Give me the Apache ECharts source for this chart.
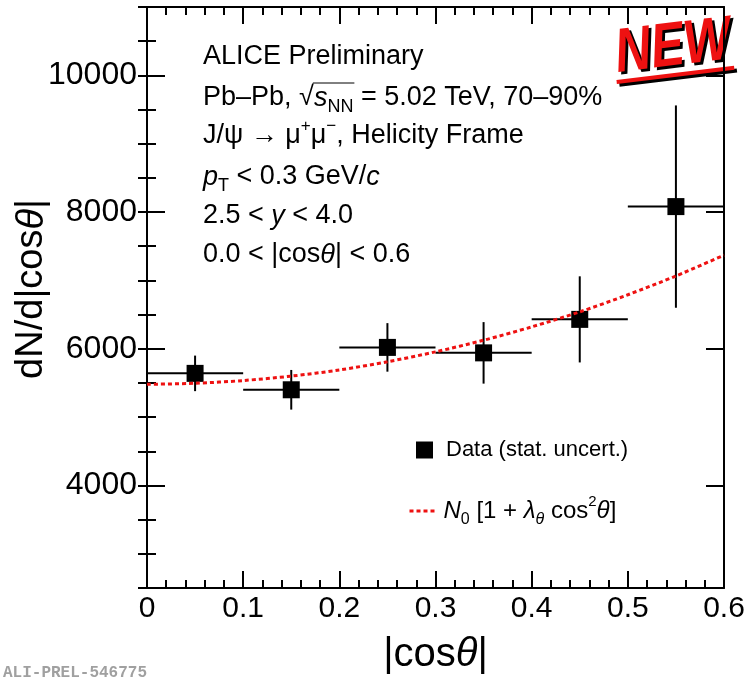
<!DOCTYPE html>
<html><head><meta charset="utf-8">
<script src="https://cdn.jsdelivr.net/npm/echarts@6/dist/echarts.min.js"></script>
<style>html,body{margin:0;padding:0;background:#fff}#c{width:751px;height:680px}</style>
</head><body><div id="c"></div>
<script>
// ---- data ----
const binLow = [0.0, 0.1, 0.2, 0.3, 0.4, 0.5];
const binHigh = [0.1, 0.2, 0.3, 0.4, 0.5, 0.6];
const binCenter = [0.05, 0.15, 0.25, 0.35, 0.45, 0.55];
const dataY = [5640, 5400, 6020, 5940, 6430, 8080];
const statErr = [260, 290, 355, 450, 630, 1480];
const fitX = [0, 0.05, 0.1, 0.15, 0.2, 0.25, 0.3, 0.35, 0.4, 0.45, 0.5, 0.55, 0.6];
const fitY = [5480, 5495, 5535, 5600, 5690, 5810, 5955, 6125, 6320, 6540, 6790, 7065, 7370];
const yTicks = [4000, 6000, 8000, 10000];
const dataName = 'Data (stat. uncert.)';
const fitName = 'N0 [1 + λθ cos2θ]';

const FONT = '"Liberation Sans", Arial, Helvetica, sans-serif';
function richSet(fs) {
  const base = {fontSize: fs, fontFamily: FONT, color: '#000', lineHeight: fs + 10};
  return {
    n: Object.assign({}, base),
    i: Object.assign({}, base, {fontStyle: 'italic'}),
    sub: {fontSize: Math.round(fs * 0.68), fontFamily: FONT, color: '#000', lineHeight: 10, verticalAlign: 'bottom'},
    subi: {fontSize: Math.round(fs * 0.68), fontFamily: FONT, color: '#000', fontStyle: 'italic', lineHeight: 6, verticalAlign: 'bottom'},
    sup: {fontSize: Math.round(fs * 0.62), fontFamily: FONT, color: '#000', lineHeight: 14, verticalAlign: 'top'}
  };
}
const INFO_FS = 27;
const richInfo = richSet(INFO_FS);
const richLeg = richSet(24);

// decoration: overline of the square root, measured from the text itself
const mctx = document.createElement('canvas').getContext('2d');
function tw(font, s) { mctx.font = font; return mctx.measureText(s).width; }
const infoX = 203, pbY = 98;
const olStart = infoX + tw(INFO_FS + 'px ' + FONT, 'Pb–Pb, √') - 1;
const olEnd = olStart + 1 + tw('italic ' + INFO_FS + 'px ' + FONT, 's') + tw(Math.round(INFO_FS * 0.68) + 'px ' + FONT, 'NN') + 1;

const errRows = binCenter.map((x, k) => [x, dataY[k], binLow[k], binHigh[k], dataY[k] - statErr[k], dataY[k] + statErr[k]]);
const dataPts = binCenter.map((x, k) => [x, dataY[k]]);
const fitPts = fitX.map((x, k) => [x, fitY[k]]);

const axisLineStyle = {color: '#000', width: 2};
const tickLineStyle = {color: '#000', width: 2};
const fitLineStyle = {color: '#ee1111', width: 3, type: [4, 3]};

function xAx(pos, labels) {
  return {
    type: 'value', min: 0, max: 0.6, interval: 0.1, position: pos,
    axisLine: {show: true, onZero: false, lineStyle: axisLineStyle},
    axisTick: {show: true, inside: true, length: 17, lineStyle: tickLineStyle},
    minorTick: {show: true, splitNumber: 5, length: 8, lineStyle: tickLineStyle},
    axisLabel: {show: labels, fontSize: 30, fontFamily: FONT, color: '#000', margin: 6,
      formatter: v => (Math.abs(v) < 1e-9 ? '0' : v.toFixed(1))},
    splitLine: {show: false},
    name: labels ? '{n||cos}{i|θ}{n||}' : '',
    nameLocation: 'middle', nameGap: 47,
    nameTextStyle: {rich: {n: {fontSize: 40, fontFamily: FONT, color: '#000'}, i: {fontSize: 40, fontFamily: FONT, color: '#000', fontStyle: 'italic'}}}
  };
}
function yMajor(pos, labels) {
  return {
    type: 'value', min: 2500, max: 11000, position: pos,
    axisLine: {show: true, onZero: false, lineStyle: axisLineStyle},
    axisTick: {show: true, inside: true, length: 18, customValues: yTicks, lineStyle: tickLineStyle},
    axisLabel: {show: labels, customValues: yTicks, fontSize: 32, fontFamily: FONT, color: '#000', margin: 10,
      formatter: v => String(Math.round(v))},
    splitLine: {show: false}
  };
}
function yMinor(pos) {
  return {
    type: 'value', min: 2500, max: 11000, interval: 500, position: pos,
    axisLine: {show: false},
    axisTick: {show: true, inside: true, length: 9, lineStyle: tickLineStyle},
    axisLabel: {show: false},
    splitLine: {show: false}
  };
}

function info(y, text) {
  return {type: 'text', x: infoX, y: y, style: {text: text, rich: richInfo, verticalAlign: 'middle'}};
}

const chart = echarts.init(document.getElementById('c'), null, {renderer: 'canvas'});
chart.setOption({
  animation: false,
  backgroundColor: '#fff',
  grid: {left: 147, right: 27, top: 7, bottom: 88},
  xAxis: [xAx('bottom', true), xAx('top', false)],
  yAxis: [yMajor('left', true), yMinor('left'), yMajor('right', false), yMinor('right')],
  legend: [
    {data: [{name: dataName, icon: 'rect', itemStyle: {color: '#000', opacity: 1}}], left: 416, top: 439, padding: 0,
      itemWidth: 17, itemHeight: 17,
      selectedMode: false, textStyle: {fontSize: 22, fontFamily: FONT, color: '#000', padding: [0, 0, 0, 8]}},
    {data: [{name: fitName, itemStyle: {opacity: 0}, lineStyle: fitLineStyle}], left: 408, top: 494, padding: 0,
      itemWidth: 28, itemHeight: 14, selectedMode: false, lineStyle: fitLineStyle,
      formatter: () => '{i|N}{sub|0}{n| [1 + }{i|λ}{subi|θ}{n| cos}{sup|2}{i|θ}{n|]}',
      textStyle: {padding: [0, 0, 0, 1], rich: richLeg}}
  ],
  series: [
    {
      type: 'custom', name: 'err', xAxisIndex: 0, yAxisIndex: 0, z: 2,
      encode: {x: [0, 2, 3], y: [1, 4, 5]},
      data: errRows,
      renderItem: function (params, api) {
        const c = api.coord([api.value(0), api.value(1)]);
        const l = api.coord([api.value(2), api.value(1)]);
        const r = api.coord([api.value(3), api.value(1)]);
        const lo = api.coord([api.value(0), api.value(4)]);
        const hi = api.coord([api.value(0), api.value(5)]);
        const st = {stroke: '#000', lineWidth: 2};
        return {type: 'group', children: [
          {type: 'line', shape: {x1: l[0], y1: c[1], x2: r[0], y2: c[1]}, style: st},
          {type: 'line', shape: {x1: c[0], y1: lo[1], x2: c[0], y2: hi[1]}, style: st}
        ]};
      }
    },
    {
      type: 'scatter', name: dataName, xAxisIndex: 0, yAxisIndex: 0, z: 3,
      symbol: 'rect', symbolSize: 17, itemStyle: {color: '#000', opacity: 1},
      emphasis: {disabled: true},
      data: dataPts
    },
    {
      type: 'line', name: fitName, xAxisIndex: 0, yAxisIndex: 0, z: 4,
      smooth: 0.3, symbol: 'none', showSymbol: false,
      lineStyle: fitLineStyle,
      itemStyle: {color: '#ee1111'},
      data: fitPts
    }
  ],
  graphic: [
    info(57, '{n|ALICE Preliminary}'),
    info(pbY, '{n|Pb–Pb, √}{i|s}{sub|NN}{n| = 5.02 TeV, 70–90%}'),
    info(136, '{n|J/ψ → μ}{sup|+}{n|μ}{sup|−}{n|, Helicity Frame}'),
    info(177, '{i|p}{sub|T}{n| < 0.3 GeV/}{i|c}'),
    info(216, '{n|2.5 < }{i|y}{n| < 4.0}'),
    info(255, '{n|0.0 < |cos}{i|θ}{n|| < 0.6}'),
    {type: 'line', shape: {x1: olStart, y1: pbY - 15, x2: olEnd, y2: pbY - 15}, style: {stroke: '#000', lineWidth: 1}},
    {type: 'text', x: 32, y: 289, rotation: Math.PI / 2,
      style: {text: '{n|dN/d|cos}{i|θ}{n||}', align: 'center', verticalAlign: 'middle',
        rich: {n: {fontSize: 38, fontFamily: FONT, color: '#000'}, i: {fontSize: 38, fontFamily: FONT, color: '#000', fontStyle: 'italic'}}}},
    {type: 'text', x: 3, y: 673,
      style: {text: 'ALI-PREL-546775', font: 'bold 16px "Liberation Mono", "Courier New", monospace', fill: '#a0a0a0', verticalAlign: 'middle'}},
    {type: 'group', x: 673, y: 48, rotation: 0.12, scaleX: 0.8, z: 100, children: [
      {type: 'text', x: 3, y: 3, style: {text: 'NEW', font: 'italic bold 62px "Liberation Sans", Arial, sans-serif',
        fill: '#000', align: 'center', verticalAlign: 'middle'}},
      {type: 'text', x: 0, y: 0, style: {text: 'NEW', font: 'italic bold 62px "Liberation Sans", Arial, sans-serif',
        fill: '#ee1111', align: 'center', verticalAlign: 'middle'}},
      {type: 'rect', shape: {x: -72, y: 28, width: 148, height: 4}, style: {fill: '#000'}},
      {type: 'rect', shape: {x: -75, y: 25, width: 148, height: 4}, style: {fill: '#ee1111'}}
    ]}
  ]
});
</script>
</body></html>
